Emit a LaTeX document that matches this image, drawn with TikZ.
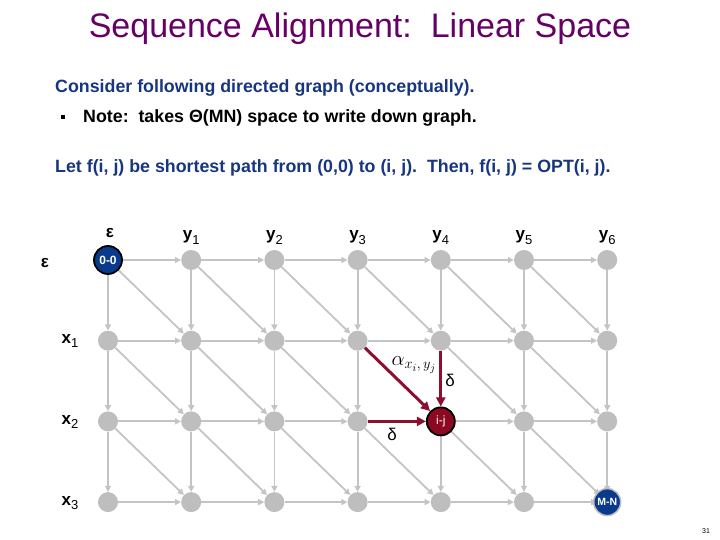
\documentclass[tikz,border=0pt]{standalone}
\usepackage{fontspec}
\setmainfont{Liberation Sans}
\usetikzlibrary{arrows.meta}
\definecolor{titlec}{HTML}{660066}
\definecolor{bluet}{HTML}{17367F}
\definecolor{edgec}{HTML}{C4C4C4}
\definecolor{nodec}{HTML}{BEBEBE}
\definecolor{redc}{HTML}{8B1030}
\definecolor{ijfill}{HTML}{8B0A22}
\definecolor{startc}{HTML}{0A3A8C}
\newcommand{\sub}[1]{\raisebox{-0.45ex}{\fontsize{13}{13}\selectfont\mdseries #1}}
\tikzset{
  gnode/.style={circle,fill=nodec,minimum size=20pt,inner sep=0pt},
  startnode/.style={circle,fill=startc,draw=black,line width=1.8pt,minimum size=28pt,inner sep=0pt,text=white,font=\fontsize{12}{12}\selectfont\bfseries},
  endnode/.style={circle,fill=startc,draw=nodec,line width=1.5pt,minimum size=27pt,inner sep=0pt,text=white,font=\fontsize{10.5}{10.5}\selectfont\bfseries},
  ijnode/.style={circle,fill=ijfill,draw=black,line width=1.8pt,minimum size=28pt,inner sep=0pt,text=white,font=\fontsize{12}{12}\selectfont},
  gedge/.style={draw=edgec,line width=1.8pt,-{Triangle[length=6pt,width=6pt]}},
  redge/.style={draw=redc,line width=3pt,-{Triangle[length=9pt,width=9pt]}},
  lbl/.style={font=\fontsize{17}{17}\selectfont},
  blbl/.style={font=\fontsize{17}{17}\selectfont\bfseries},
  bodyb/.style={anchor=base west,font=\fontsize{17.8}{21}\selectfont\bfseries,inner sep=0pt}
}
\begin{document}
\begin{tikzpicture}[x=1pt,y=1pt]
\useasboundingbox (0,0) rectangle (720,540);
% title and text
\node[text=titlec,font=\fontsize{34}{40}\selectfont,anchor=base,inner sep=0pt] (title) at (360,502) {Sequence Alignment:\ \ Linear Space};
\node[bodyb,text=bluet] (t1) at (55,447) {Consider following directed graph (conceptually).};
\node[fill=black,minimum size=3.5pt,inner sep=0pt] (bul) at (63,423) {};
\node[bodyb,text=black] (t2) at (83,417) {Note:\ \ takes Θ(MN) space to write down graph.};
\node[bodyb,text=bluet] (t3) at (55,367) {Let f(i, j) be shortest path from (0,0) to (i, j).\ \ Then, f(i, j) = OPT(i, j).};
\node[font=\fontsize{7}{7}\selectfont,inner sep=0pt] (pg) at (706,9) {31};
% grid nodes
\foreach \i in {0,...,3}{
  \foreach \j in {0,...,6}{
    \node[gnode] (n\i\j) at ({108+83.2*\j},{280-80.7*\i}) {};
  }
}
% edges
\foreach \i in {0,...,3}{
  \foreach \j in {0,...,6}{
    \pgfmathtruncatemacro\ni{\i+1}
    \pgfmathtruncatemacro\nj{\j+1}
    \pgfmathtruncatemacro\code{10*\i+\j}
    \ifnum\j<6 \ifnum\code=23\relax\else \draw[gedge] (n\i\j) -- (n\i\nj);\fi\fi
    \ifnum\i<3 \ifnum\code=14\relax\else \draw[gedge] (n\i\j) -- (n\ni\j);\fi\fi
    \ifnum\i<3 \ifnum\j<6 \ifnum\code=13\relax\else \draw[gedge] (n\i\j) -- (n\ni\nj);\fi\fi\fi
  }
}
\node[startnode] (s) at (n00) {0-0};
\node[ijnode] (ij) at (n24) {i-j};
\node[endnode] (mn) at (n36) {M-N};
% red edges
\draw[redge] (n13) -- (ij);
\draw[redge] (n14) -- (ij);
\draw[redge] (n23) -- (ij);
\node[font=\fontsize{21}{21}\selectfont] (alab) at (414,175) {$\alpha_{x_i,\,y_j}$};
\node[lbl] (d1) at (450,160) {δ};
\node[lbl] (d2) at (392,106) {δ};
% labels
\node[blbl] (eps1) at (110,307) {ε};
\node[blbl] (eps2) at (45,277) {ε};
\foreach \j in {1,...,6}{
  \node[blbl,anchor=base] (y\j) at ({108+83.2*\j},300) {y\sub{\j}};
}
\foreach \i in {1,2,3}{
  \node[blbl,anchor=base] (x\i) at (70,{280-80.7*\i-3}) {x\sub{\i}};
}
\end{tikzpicture}
\end{document}
